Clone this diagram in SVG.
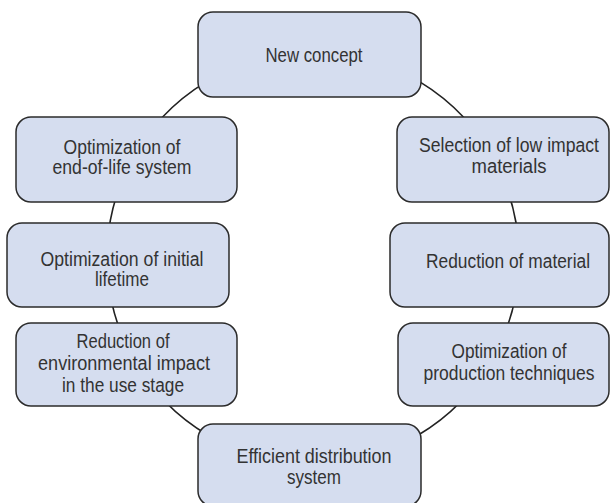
<svg xmlns="http://www.w3.org/2000/svg" width="610" height="503" viewBox="0 0 610 503">
<style>
.box{fill:#d5ddef;stroke:#2b2b2b;stroke-width:1.5}
.lbl{font-family:"Liberation Sans",Arial,sans-serif;font-size:19.5px;fill:#333;text-anchor:middle}
.con{fill:none;stroke:#222;stroke-width:1.6}
</style>
<rect width="610" height="503" fill="#fff"/>
<g id="connectors">
<path class="con" d="M313,52 A206,206 0 0 1 495.7,162.9"/>
<path class="con" d="M495.7,162.9 A206,206 0 0 1 518.9,265.2"/>
<path class="con" d="M518.9,265.2 A206,206 0 0 1 493.2,357.9"/>
<path class="con" d="M493.2,357.9 A206,206 0 0 1 313,464"/>
<path class="con" d="M313,464 A206,206 0 0 1 132.8,357.9"/>
<path class="con" d="M132.8,357.9 A206,206 0 0 1 107.1,265.2"/>
<path class="con" d="M107.1,265.2 A206,206 0 0 1 130.3,162.9"/>
<path class="con" d="M130.3,162.9 A206,206 0 0 1 313,52"/>
</g>
<g id="new-concept">
<rect class="box" x="198" y="12" width="223" height="85" rx="15"/>
<text class="lbl" x="314" y="62" textLength="97" lengthAdjust="spacingAndGlyphs">New concept</text>
</g>
<g id="selection">
<rect class="box" x="397" y="117" width="212" height="85" rx="15"/>
<text class="lbl" x="509" y="152" textLength="180" lengthAdjust="spacingAndGlyphs">Selection of low impact</text>
<text class="lbl" x="509" y="173" textLength="75" lengthAdjust="spacingAndGlyphs">materials</text>
</g>
<g id="reduction-material">
<rect class="box" x="390" y="223" width="219" height="84" rx="15"/>
<text class="lbl" x="508" y="268" textLength="164" lengthAdjust="spacingAndGlyphs">Reduction of material</text>
</g>
<g id="production">
<rect class="box" x="398" y="323" width="211" height="83" rx="15"/>
<text class="lbl" x="509" y="358" textLength="115" lengthAdjust="spacingAndGlyphs">Optimization of</text>
<text class="lbl" x="509" y="380" textLength="171" lengthAdjust="spacingAndGlyphs">production techniques</text>
</g>
<g id="distribution">
<rect class="box" x="198" y="424" width="223" height="82" rx="15"/>
<text class="lbl" x="314" y="463" textLength="155" lengthAdjust="spacingAndGlyphs">Efficient distribution</text>
<text class="lbl" x="314" y="484" textLength="54" lengthAdjust="spacingAndGlyphs">system</text>
</g>
<g id="use-stage">
<rect class="box" x="16" y="323" width="221" height="83" rx="15"/>
<text class="lbl" x="123" y="348" textLength="93" lengthAdjust="spacingAndGlyphs">Reduction of</text>
<text class="lbl" x="124" y="370" textLength="172" lengthAdjust="spacingAndGlyphs">environmental impact</text>
<text class="lbl" x="123" y="392" textLength="122" lengthAdjust="spacingAndGlyphs">in the use stage</text>
</g>
<g id="initial-lifetime">
<rect class="box" x="7" y="223" width="222" height="84" rx="15"/>
<text class="lbl" x="122" y="266" textLength="163" lengthAdjust="spacingAndGlyphs">Optimization of initial</text>
<text class="lbl" x="122" y="286" textLength="54" lengthAdjust="spacingAndGlyphs">lifetime</text>
</g>
<g id="end-of-life">
<rect class="box" x="16" y="117" width="221" height="85" rx="15"/>
<text class="lbl" x="122" y="154" textLength="117" lengthAdjust="spacingAndGlyphs">Optimization of</text>
<text class="lbl" x="122" y="174" textLength="139" lengthAdjust="spacingAndGlyphs">end-of-life system</text>
</g>
</svg>
